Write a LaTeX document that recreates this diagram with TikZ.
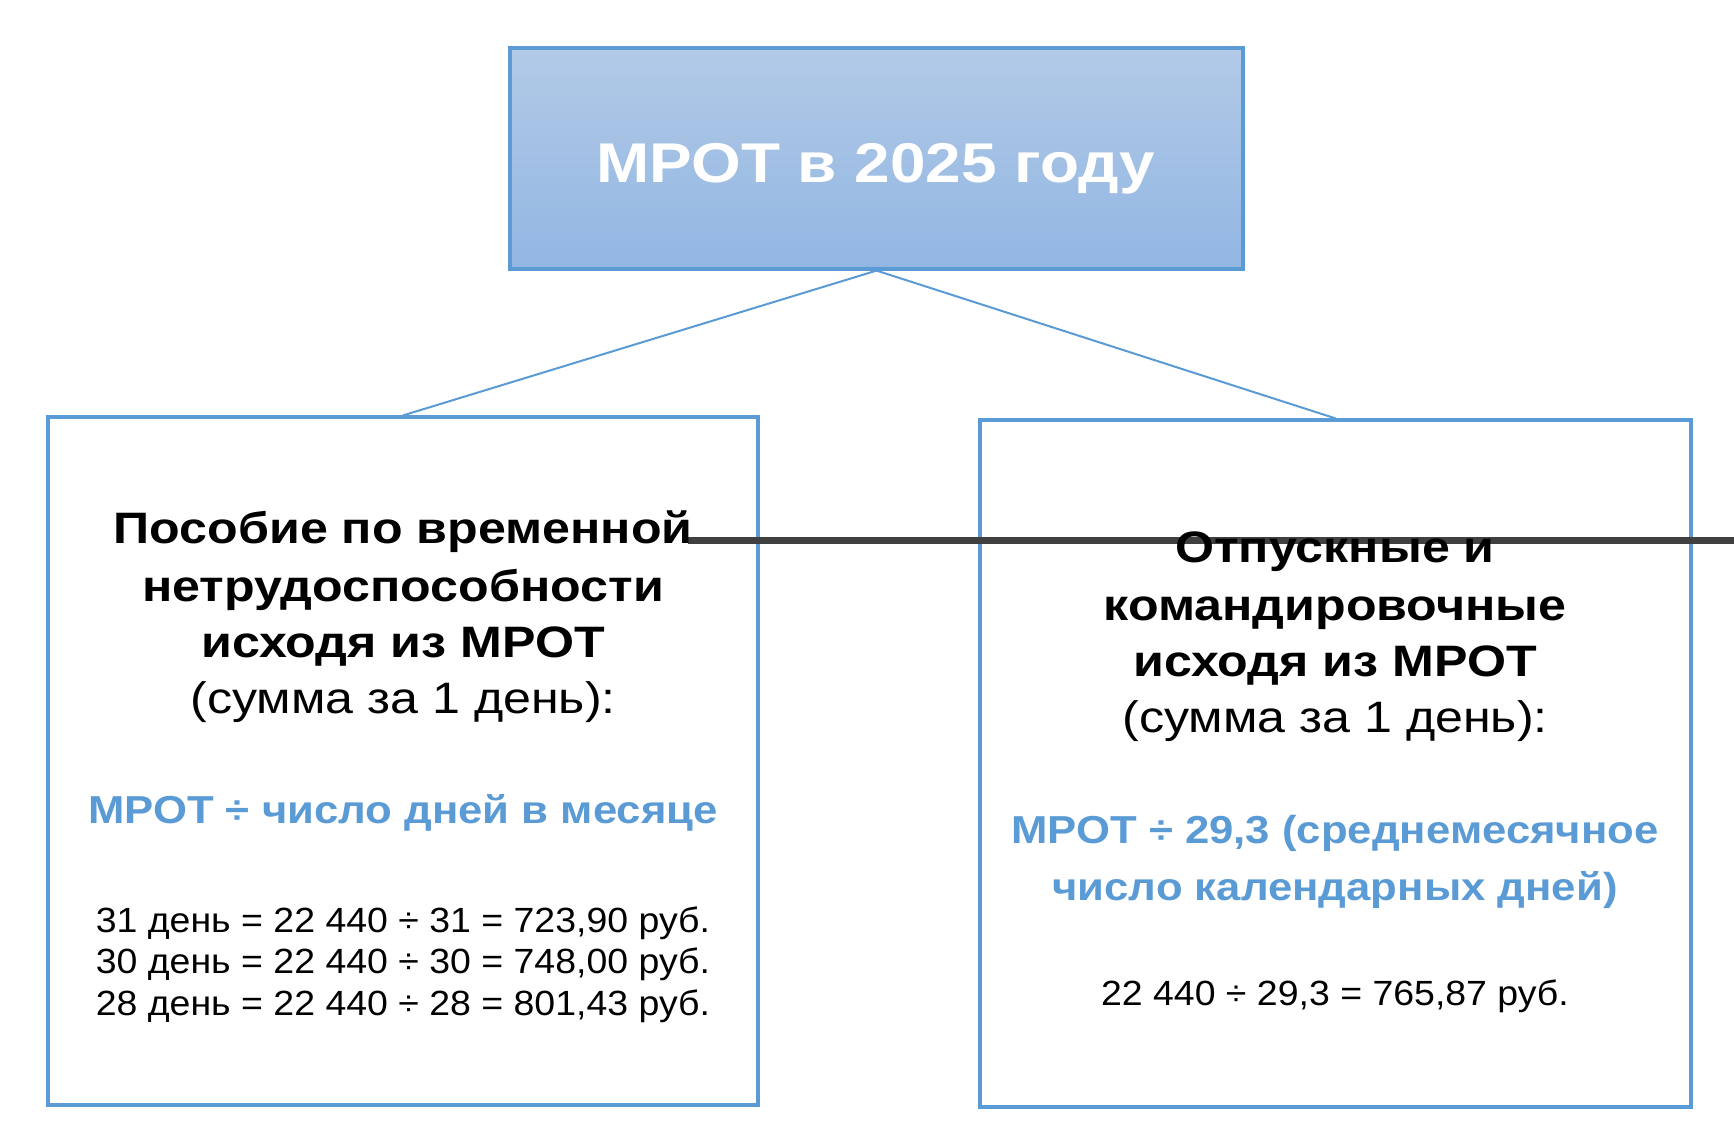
\documentclass[tikz,border=0pt]{standalone}
\usepackage{fontspec}
\setmainfont{Liberation Sans}
\newfontfamily\widefont[FakeStretch=1.14]{Liberation Sans}
\newfontfamily\formfont[FakeStretch=1.12]{Liberation Sans}
\newfontfamily\calcfont[FakeStretch=1.07]{Liberation Sans}
\definecolor{mrot}{HTML}{5B9BD5}
\definecolor{mrottop}{HTML}{B2CAE7}
\definecolor{mrotbot}{HTML}{92B6E2}
\definecolor{bar}{HTML}{404040}
\begin{document}
\begin{tikzpicture}[x=0.5pt,y=-0.5pt,
  box/.style={draw=mrot,line width=1.6pt,inner sep=0pt},
  link/.style={draw=mrot,line width=1pt},
  head/.style={anchor=base,font=\widefont\fontsize{22}{26}\selectfont\bfseries},
  sub/.style={anchor=base,font=\widefont\fontsize{22}{26}\selectfont},
  formula/.style={anchor=base,text=mrot,font=\formfont\fontsize{19.5}{23}\selectfont\bfseries},
  calc/.style={anchor=base,font=\calcfont\fontsize{17.5}{21}\selectfont}]
\useasboundingbox (0,0) rectangle (1734,1146);
\node[box,top color=mrottop,bottom color=mrotbot,minimum width=366.5pt,minimum height=110.5pt](top) at (876.5,158.5){};
\node[box,minimum width=355pt,minimum height=344pt](left) at (403,761){};
\node[box,minimum width=355.5pt,minimum height=343.5pt](right) at (1335.5,763.5){};
\draw[link](top.south)--(left.north);
\draw[link](top.south)--(right.north);
\coordinate(bs) at (688,540);
\coordinate(be) at (1734,540);
\draw[bar,line width=3.5pt](bs)--(be);
\node[anchor=base,text=white,font=\widefont\fontsize{28}{32}\selectfont\bfseries](title) at (876,182){МРОТ в 2025 году};
% left box
\node[head](l1) at (403,543){Пособие по временной};
\node[head](l2) at (403,601){нетрудоспособности};
\node[head](l3) at (403,657){исходя из МРОТ};
\node[sub](l4) at (403,713){(сумма за 1 день):};
\node[formula](lf) at (403,823){МРОТ ÷ число дней в месяце};
\node[calc](lc1) at (403,932){31 день = 22 440 ÷ 31 = 723,90 руб.};
\node[calc](lc2) at (403,973){30 день = 22 440 ÷ 30 = 748,00 руб.};
\node[calc](lc3) at (403,1015){28 день = 22 440 ÷ 28 = 801,43 руб.};
% right box
\node[head](r1) at (1335,562){Отпускные и};
\node[head](r2) at (1335,620){командировочные};
\node[head](r3) at (1335,676){исходя из МРОТ};
\node[sub](r4) at (1335,732){(сумма за 1 день):};
\node[formula](rf1) at (1335,843){МРОТ ÷ 29,3 (среднемесячное};
\node[formula](rf2) at (1335,900){число календарных дней)};
\node[calc](rc) at (1335,1005){22 440 ÷ 29,3 = 765,87 руб.};
\end{tikzpicture}
\end{document}
